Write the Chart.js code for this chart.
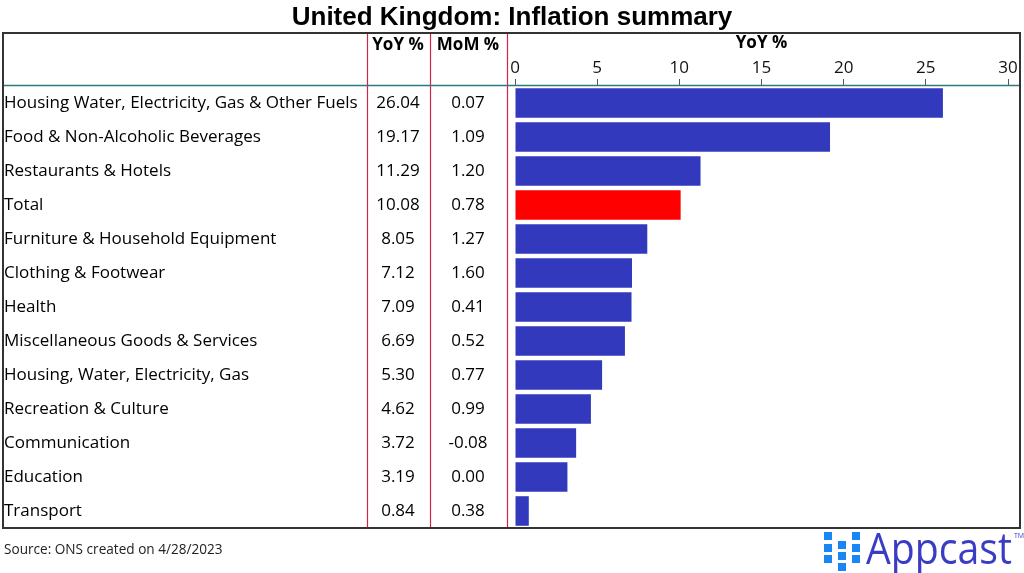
<!DOCTYPE html>
<html>
<head>
<meta charset="utf-8">
<script src="https://cdn.jsdelivr.net/npm/chart.js@4"></script>
<style>
  html, body { margin: 0; padding: 0; background: #fff; }
  #wrap { width: 1024px; height: 573px; }
</style>
</head>
<body>
<div id="wrap"><canvas id="chart" width="1024" height="573"></canvas></div>
<script>
const categories = [
  'Housing Water, Electricity, Gas & Other Fuels',
  'Food & Non-Alcoholic Beverages',
  'Restaurants & Hotels',
  'Total',
  'Furniture & Household Equipment',
  'Clothing & Footwear',
  'Health',
  'Miscellaneous Goods & Services',
  'Housing, Water, Electricity, Gas',
  'Recreation & Culture',
  'Communication',
  'Education',
  'Transport'
];
const yoyValues = [26.04, 19.17, 11.29, 10.08, 8.05, 7.12, 7.09, 6.69, 5.30, 4.62, 3.72, 3.19, 0.84];
const momValues = [0.07, 1.09, 1.20, 0.78, 1.27, 1.60, 0.41, 0.52, 0.77, 0.99, -0.08, 0.00, 0.38];
const xTicks = [0, 5, 10, 15, 20, 25, 30];

const FONT = '"Open Sans", "Noto Sans", sans-serif';
const BLUE = '#3339bd';
const RED = '#ff0000';

// table + frame drawn over the chart
const tablePlugin = {
  id: 'tablePlugin',
  afterDraw(chart) {
    const ctx = chart.ctx;
    const y = chart.scales.y;
    const area = chart.chartArea;
    const boxL = 3, boxR = 1020, boxT = 33, boxB = area.bottom;
    const colYoY = 398, colMoM = 468;
    ctx.save();

    // title
    ctx.fillStyle = '#000';
    ctx.font = 'bold 26px "Liberation Sans", Arial, sans-serif';
    ctx.textAlign = 'center';
    ctx.textBaseline = 'middle';
    ctx.fillText('United Kingdom: Inflation summary', 512, 18);

    // header row
    ctx.font = 'bold 17px ' + FONT;
    ctx.fillText('YoY %', colYoY, 45);
    ctx.fillText('MoM %', colMoM, 45);

    // values
    ctx.font = '17px ' + FONT;
    categories.forEach((c, i) => {
      const py = y.getPixelForValue(i);
      ctx.fillText(yoyValues[i].toFixed(2), colYoY, py);
      ctx.fillText(momValues[i].toFixed(2), colMoM, py);
    });

    // column separators
    ctx.strokeStyle = '#d2234d';
    ctx.lineWidth = 1.2;
    [367.5, 430.5, 507.5].forEach(x => {
      ctx.beginPath();
      ctx.moveTo(x, boxT);
      ctx.lineTo(x, boxB);
      ctx.stroke();
    });

    // header underline
    ctx.strokeStyle = '#2f7a7d';
    ctx.lineWidth = 1.5;
    ctx.beginPath();
    ctx.moveTo(boxL, area.top - 0.5);
    ctx.lineTo(boxR, area.top - 0.5);
    ctx.stroke();

    // frame
    ctx.strokeStyle = '#333';
    ctx.lineWidth = 2;
    ctx.strokeRect(boxL, boxT, boxR - boxL, boxB - boxT);

    // source
    ctx.fillStyle = '#222';
    ctx.font = '13.6px ' + FONT;
    ctx.textAlign = 'left';
    ctx.fillText('Source: ONS created on 4/28/2023', 4, 550);

    // logo
    ctx.fillStyle = '#1a86f5';
    [[824, 532], [824, 544], [824, 555], [838, 541], [838, 552], [838, 563],
     [852, 532], [852, 544], [852, 555]].forEach(([sx, sy]) => ctx.fillRect(sx, sy, 8, 8));
    ctx.fillStyle = '#3a3dc4';
    ctx.font = '43px ' + FONT;
    ctx.textBaseline = 'alphabetic';
    const w = ctx.measureText('Appcast').width;
    ctx.save();
    ctx.translate(866, 564);
    ctx.scale(146 / w, 1);
    ctx.fillText('Appcast', 0, 0);
    ctx.restore();
    ctx.font = '7px ' + FONT;
    ctx.fillText('TM', 1014, 538);
    ctx.restore();
  }
};

new Chart(document.getElementById('chart'), {
  type: 'bar',
  data: {
    labels: categories,
    datasets: [{
      data: yoyValues,
      backgroundColor: categories.map(c => c === 'Total' ? RED : BLUE),
      categoryPercentage: 1,
      barPercentage: 0.87
    }]
  },
  options: {
    indexAxis: 'y',
    responsive: false,
    animation: false,
    layout: { padding: { top: 33, bottom: 45, left: 4, right: 16 } },
    plugins: { legend: { display: false }, tooltip: { enabled: false } },
    scales: {
      x: {
        position: 'top',
        min: 0,
        max: 30,
        afterBuildTicks(axis) { axis.ticks = xTicks.map(v => ({ value: v })); },
        afterFit(axis) { axis.height = 53; },
        title: { display: true, text: 'YoY %', color: '#000', font: { family: FONT, size: 17, weight: 'bold' }, padding: { top: 0, bottom: 0 } },
        ticks: { color: '#111', font: { family: FONT, size: 17 }, padding: 1 },
        grid: { drawOnChartArea: false, drawTicks: true, tickLength: 7, color: '#555' },
        border: { display: false }
      },
      y: {
        afterFit(axis) { axis.width = 511; },
        ticks: { crossAlign: 'far', color: '#000', font: { family: FONT, size: 17 }, autoSkip: false },
        grid: { display: false },
        border: { display: false }
      }
    }
  },
  plugins: [tablePlugin]
});
</script>
</body>
</html>
